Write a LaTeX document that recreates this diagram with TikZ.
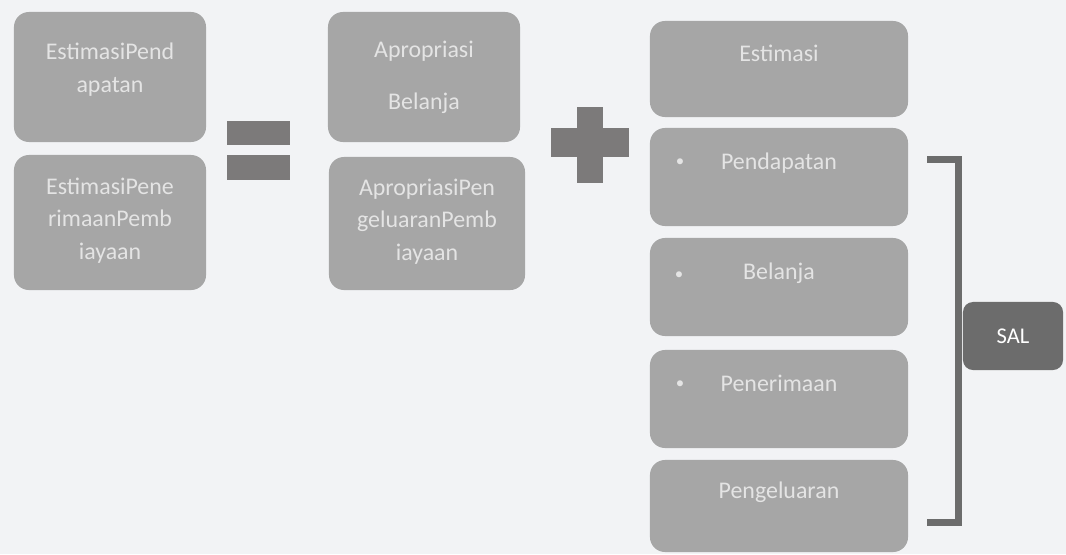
\documentclass[tikz,border=0pt]{standalone}
\usepackage{fontspec}
\setmainfont{Carlito}
\definecolor{fondo}{RGB}{242,243,245}
\definecolor{caja}{RGB}{166,166,166}
\definecolor{texto}{RGB}{228,228,228}
\definecolor{signo}{RGB}{124,122,122}
\definecolor{oscuro}{RGB}{108,108,108}
\tikzset{
	caja/.style={rounded corners=0.375cm, fill=caja, text=texto, align=center, font=\fontsize{17}{23}\selectfont, inner sep=0pt},
	signo/.style={fill=signo},
	punto/.style={text=texto, font=\fontsize{12}{12}\selectfont, inner sep=0pt}
}
\begin{document}
\begin{tikzpicture}[x=0.025cm, y=-0.025cm]
	% Fondo
		\fill[fondo] (0,0) rectangle (1066,554);
		\useasboundingbox (0,0) rectangle (1066,554);
	% Estimasi (izquierda)
		\node[caja, minimum width=4.8cm, minimum height=3.25cm] (estPend) at (110,77) {EstimasiPend\\apatan\\[-10pt]\mbox{}};
		\node[caja, minimum width=4.8cm, minimum height=3.375cm] (estPene) at (110,222.5) {\mbox{}\\[-14pt]EstimasiPene\\rimaanPemb\\iayaan};
	% Signo igual
		\fill[signo] (227,121) rectangle (290,145);
		\fill[signo] (227,155) rectangle (290,180);
	% Apropriasi
		\node[caja, minimum width=4.8cm, minimum height=3.25cm] (aprBel) at (424,77) {Apropriasi\\[14pt]Belanja};
		\node[caja, minimum width=4.9cm, minimum height=3.325cm] (aprPeng) at (427,223.5) {\mbox{}\\[-14pt]ApropriasiPen\\geluaranPemb\\iayaan};
	% Signo mas
		\fill[signo] (577,107) rectangle (603,183);
		\fill[signo] (551,128) rectangle (629,157);
	% Columna derecha
		\node[caja, minimum width=6.45cm, minimum height=2.4cm] (estimasi) at (779,69) {Estimasi\\[0pt]~};
		\node[caja, minimum width=6.45cm, minimum height=2.45cm] (pendapatan) at (779,177) {Pendapatan\\[0pt]~};
		\node[caja, minimum width=6.45cm, minimum height=2.45cm] (belanja) at (779,287) {Belanja\\[0pt]~};
		\node[caja, minimum width=6.45cm, minimum height=2.45cm] (penerimaan) at (779,399) {Penerimaan\\[0pt]~};
		\node[caja, minimum width=6.45cm, minimum height=2.3cm] (pengeluaran) at (779,506) {Pengeluaran\\[0pt]~};
	% Vinetas
		\node[punto] (vPend) at (680,163) {•};
		\node[punto] (vBel) at (679,276) {•};
		\node[punto] (vPene) at (680,385) {•};
	% Corchete y SAL
		\coordinate (corA) at (927,159);
		\coordinate (corB) at (927,522);
		\draw[oscuro, line width=0.175cm] (corA) -- (958,159) -- (958,522) -- (corB);
		\node[caja, fill=oscuro, text=white, font=\fontsize{16}{18}\selectfont, minimum width=2.5cm, minimum height=1.7cm, rounded corners=0.25cm] (sal) at (1013,336) {SAL};
\end{tikzpicture}
\end{document}
